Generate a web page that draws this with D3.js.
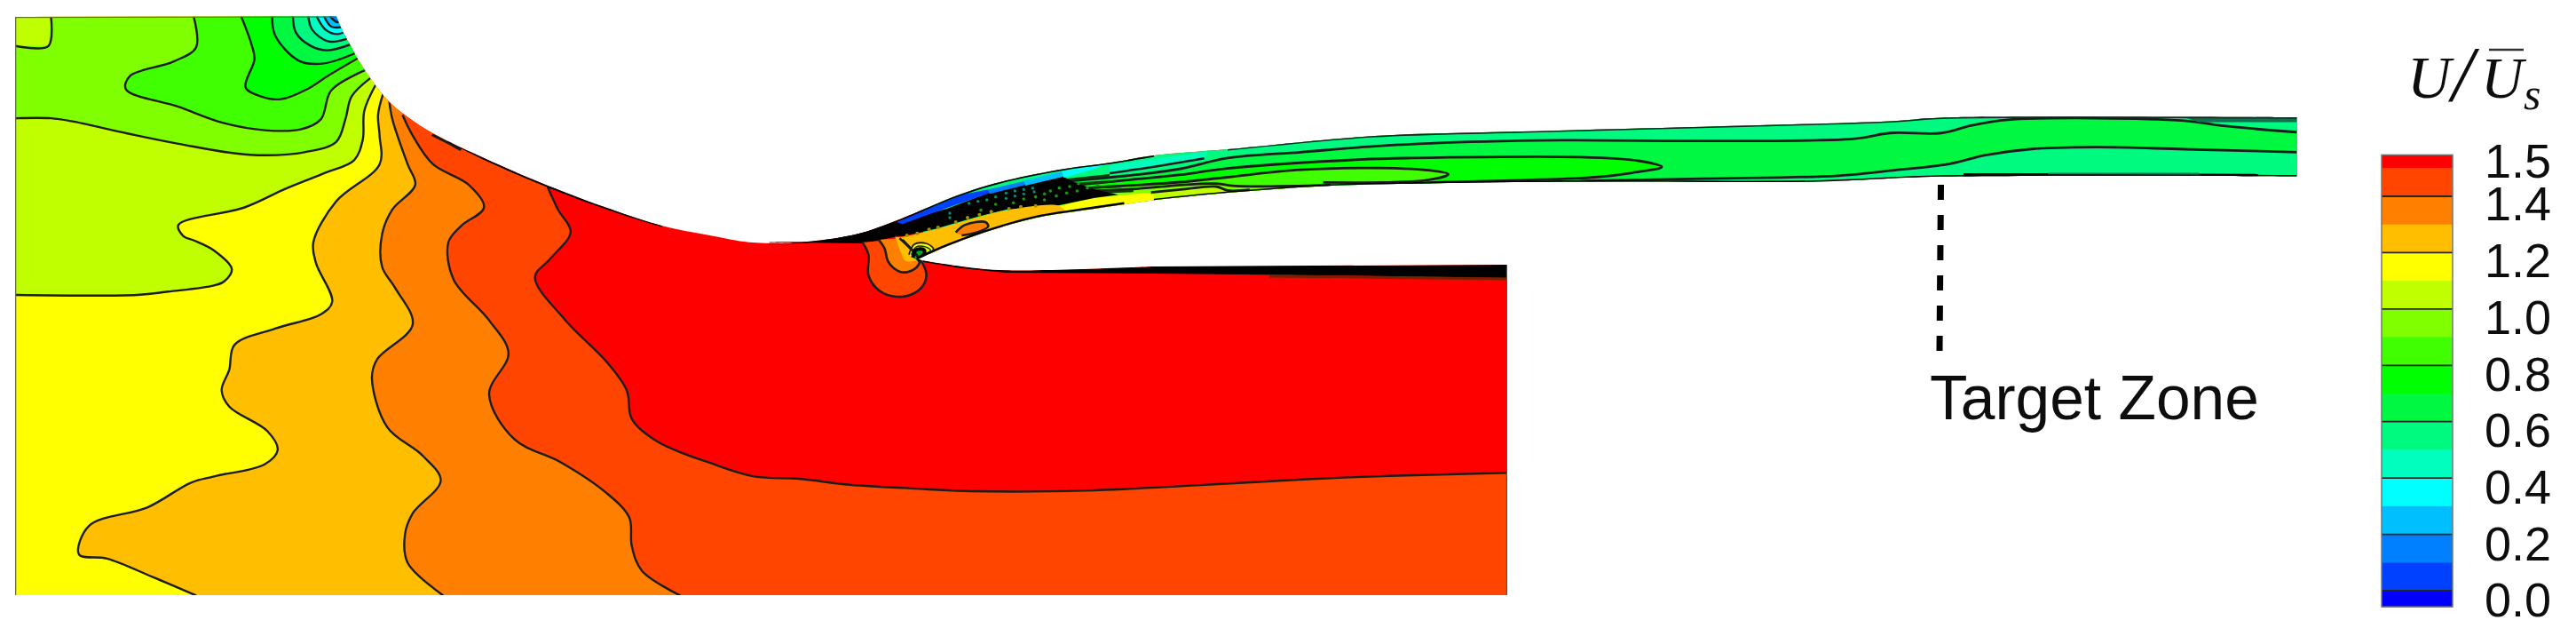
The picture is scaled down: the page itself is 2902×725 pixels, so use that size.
<!DOCTYPE html>
<html><head><meta charset="utf-8">
<script src="https://cdn.jsdelivr.net/npm/d3@7"></script>
<style>html,body{margin:0;background:#fff}svg{display:block}</style></head>
<body><svg id="chart" width="2902" height="725"></svg>
<script>
// ---------- data (each array is read in the units of one reference view) ----------
const legendLevels=[1.547,1.5,1.4,1.3,1.2,1.1,1.0,0.9,0.8,0.7,0.6,0.5,0.4,0.3,0.2,0.1,0,-0.057];
const legendColors=["#ff0000","#ff4500","#ff8000","#ffbf00","#ffff00","#bfff00","#80ff00","#40ff00","#00ff00","#00f840","#00fa80","#00ffbf","#00ffff","#00bfff","#0080ff","#0040ff","#0000ff"];
const legendMajor=[1.4,1.2,1.0,0.8,0.6,0.4,0.2,0];
const tickLabels=["1.5","1.4","1.2","1.0","0.8","0.6","0.4","0.2","0.0"];
const tickValues=[1.5,1.4,1.2,1.0,0.8,0.6,0.4,0.2,0];
const surfaceLeft=[[660,40],[672,75],[685,105],[705,150],[735,205],[765,250],[800,285],[850,325],[950,385],[1075,452],[1200,510],[1300,550],[1400,575],[1470,590],[1568,592]];
const surfaceThroat=[[200,428],[340,425],[500,400],[630,355],[850,265],[1000,220],[1200,180],[1350,160],[1500,135]];
const jetTop=[[100,205],[300,160],[500,145],[800,125],[1000,110],[1070,98],[1553,97]];
const jetBottom=[[1553,297],[1070,298],[900,315],[600,315],[400,320],[230,330],[100,353],[0,378]];
const lipBottom=[[1400,300],[1250,322],[1100,346],[950,388],[800,442],[700,487]];
const blockTop=[[720,490],[850,510],[1000,523],[1500,510]];
const blockCorners=[[1698,298],[1698,670],[17,670]];
const frameStart=[[17,19]];
// near-wall rings, top of the inlet
const c7=[[365,55],[390,75],[405,70]];
const c6=[[345,55],[370,90],[412,90]];
const c5=[[320,55],[350,100],[390,115],[420,105]];
const c4=[[292,55],[305,100],[360,140],[425,130]];
const c3=[[240,55],[250,110],[300,155],[355,170],[435,150]];
const c2=[[170,55],[180,120],[260,205],[340,215],[450,180]];
const c1=[[65,55],[100,150],[110,200],[80,295],[130,325],[200,335],[290,300],[360,255],[462,195]];
const cBox=[[30,112],[95,112],[100,40]];
const c40=[[380,40],[385,115],[340,150],[255,185],[247,217],[350,260],[440,300],[520,317],[590,315],[630,290],[650,220],[718,170]];
const c80=[[30,288],[100,288],[140,295],[250,325],[350,350],[490,377],[600,370],[660,345],[678,290],[690,235],[727,190]];
const cBF=[[30,718],[270,718],[330,710],[420,695],[440,685],[455,655],[420,610],[380,585],[360,575],[350,548],[480,505],[560,460],[640,420],[695,390],[712,340],[715,270],[738,205]];
const cFF=[[385,1450],[300,1405],[210,1360],[155,1350],[175,1280],[290,1235],[375,1175],[420,1160],[520,1130],[545,1095],[525,1050],[450,990],[435,950],[450,900],[460,840],[540,800],[630,765],[652,735],[620,640],[615,590],[660,490],[745,400],[745,330],[742,280],[752,228]];
const cAmber=[[870,1450],[800,1370],[795,1300],[810,1250],[865,1170],[830,1110],[760,1040],[730,920],[740,875],[810,790],[775,700],[750,650],[750,570],[770,510],[815,450],[800,400],[770,290],[764,245]];
const cOrange=[[1335,1450],[1260,1390],[1240,1330],[1235,1260],[1190,1200],[1100,1125],[1010,1070],[960,960],[998,860],[960,780],[890,680],[880,590],[905,550],[950,505],[920,450],[850,400],[810,330],[790,280]];
const cRedLow=[[1390,700],[1160,710],[990,722],[780,742],[560,760],[340,762],[250,755],[100,740],[0,720]];
const cRedLeft=[[1480,1160],[1400,1130],[1290,1075],[1240,1020],[1230,950],[1190,880],[1110,780],[1050,675],[1080,630],[1120,565],[1095,510],[1075,456]];
const cRedTip=[[1075,456],[1112,463]];
const squiggle=[[848,328],[875,345],[905,365]];
const thickSurface=[[880,342],[950,385],[1075,452],[1200,510],[1300,549]];
// throat view
const bubble=[[515,428],[535,470],[535,540],[570,590],[630,612],[690,600],[725,565],[730,530],[712,490],[650,420]];
const bubbleInner=[[570,420],[590,450],[600,490],[620,515],[655,530],[695,515],[708,490],[640,415]];
const amberPatch=[[625,410],[650,410],[760,385],[900,345],[1000,320],[1180,305],[1200,328],[1100,350],[950,394],[800,448],[700,490],[660,490],[640,450]];
const orangeIsland=[[830,395],[860,370],[930,360],[940,375],[900,395],[850,405]];
const eyeY=[[672,470],[690,435],[730,432],[755,452],[700,482]];
const eyeG=[[680,470],[695,445],[725,443],[745,455],[700,478]];
const eyeK=[[685,480],[695,455],[720,452],[725,462],[700,490]];
const core=[[400,420],[630,360],[800,315],[940,262],[1060,232],[1190,205],[1230,225],[1300,250],[1380,268],[1300,278],[1180,303],[1000,318],[900,343],[760,383],[650,408],[625,410],[515,432],[340,430]];
const strip1=[[630,360],[850,268],[940,250],[945,262],[800,312],[650,367]];
const strip2=[[940,250],[1060,222],[1065,235],[945,265]];
const strip3=[[1060,220],[1190,190],[1190,208],[1065,237]];
const strip4=[[1190,188],[1345,163],[1300,180],[1195,210]];
const yellowStrip=[[1180,305],[1300,278],[1470,262],[1500,268],[1500,310],[1180,345]];
const specksTeal=[[875,297],[905,290],[935,285],[810,330],[810,345],[965,275],[1000,262],[1030,255],[1060,250],[1090,245],[1000,280],[1030,272],[1060,265],[1095,258]];
const specksGreen=[[915,320],[965,300],[1025,295],[1060,282],[1100,275],[1130,265],[1150,255],[1180,245],[1215,240],[1245,230],[1130,285],[1170,272],[1205,262],[1240,255],[1275,245],[1310,235]];
const specksOlive=[[665,405],[700,398],[740,385],[770,378],[830,360],[870,345],[910,335],[950,325],[1010,315],[1050,308],[1100,305]];
// fine jet view
const strip5=[[360,78],[690,32],[680,55],[500,85],[360,105]];
const f2=[[190,135],[300,125],[450,110],[600,90]];
const f3=[[190,150],[300,140],[450,125],[600,110]];
const f4=[[190,165],[280,155],[450,145],[600,135]];
const f5=[[300,165],[450,158],[600,145],[720,140]];
const f6=[[500,170],[600,160],[720,150]];
const fanExtra=[[[210,128],[360,112]],[[215,143],[380,132]],[[230,158],[400,150]],[[280,172],[440,165]]];
// long jet view
const lineA=[[100,235],[200,215],[300,195],[430,180],[520,175],[950,170],[1000,150],[1070,150],[1110,125],[1160,105],[1400,108],[1450,125],[1553,147]];
const lineD=[[1553,215],[1400,205],[1280,198],[1190,205],[1130,225],[1080,255],[1000,278],[930,295],[750,305],[600,312],[490,322]];
const tongue0=[[100,270],[280,240],[350,235],[580,232],[660,245],[690,265],[650,285],[600,300],[500,310],[400,316],[340,322]];
const tongue4=[[100,300],[200,275],[350,272],[400,290],[370,310],[230,318]];
const f5End=[[110,330],[240,327]];
const f6End=[[100,345],[130,343]];
const tealTop=[[1400,97],[1553,97],[1553,113],[1420,113]];
const tealBottom=[[1215,291],[1420,291]];
const darkBottom=[[[1100,292],[1215,292]],[[1420,293],[1500,294]]];
// target marker
const markerX=[2186.5,2185];
const markerY=[208,395];
// ---------- scales ----------
const L={x:d3.scaleLinear([0,1568],[0,900]),y:d3.scaleLinear([0,1568],[0,725])};
const Z={x:d3.scaleLinear([0,720],[250,490]),y:d3.scaleLinear([0,450],[0,150])};
const T={x:d3.scaleLinear([0,1500],[800,1300]),y:d3.scaleLinear([0,780],[130,390])};
const J={x:d3.scaleLinear([0,1568],[1300,2600]),y:d3.scaleLinear([0,392],[100,230])};
const F={x:d3.scaleLinear([0,720],[1130,1370]),y:d3.scaleLinear([0,270],[160,250])};
const B={x:d3.scaleLinear([0,1568],[900,1800]),y:d3.scaleLinear([0,1280],[300,725])};
const P=(v,a)=>a.map(p=>[v.x(p[0]),v.y(p[1])]);
const straight=d3.line(), curved=d3.line().curve(d3.curveCatmullRom.alpha(0.5));
const shut=a=>straight(a)+"Z";
const region=(contour,closure)=>curved(contour)+(closure.length?"L"+closure.map(p=>p.join(",")).join("L"):"")+"Z";
const svg=d3.select("#chart");
const defs=svg.append("defs");
defs.append("filter").attr("id","soft").attr("x","-2%").attr("y","-2%").attr("width","104%").attr("height","104%")
  .append("feGaussianBlur").attr("stdDeviation",0.75);
// ---------- domain ----------
const upperRun=[...P(L,surfaceLeft),...P(T,surfaceThroat),...P(J,jetTop)];
const lowerRun=[...P(J,jetBottom),...P(T,lipBottom)];
const blockRun=P(T,blockTop);
const outlinePath="M"+frameStart[0].join(",")+curved(upperRun).replace("M","L")+curved(lowerRun).replace("M","L")+curved(blockRun).replace("M","L")+"L"+blockCorners.map(p=>p.join(",")).join("L")+"Z";
defs.append("clipPath").attr("id","dom").append("path").attr("d",outlinePath);
const root=svg.append("g").attr("filter","url(#soft)");
const g=root.append("g").attr("clip-path","url(#dom)");
const paint=(pts,c)=>g.append("path").attr("d",shut(pts)).attr("fill",c);
const paintC=(contour,closure,c)=>g.append("path").attr("d",region(contour,closure)).attr("fill",c);
const ink=(pts,w=2.4,c="#1c1c1c")=>g.append("path").attr("d",curved(pts)).attr("fill","none").attr("stroke",c).attr("stroke-width",w).attr("stroke-linejoin","round");
const up=(pts)=>[pts[pts.length-1][0],-50];
const col=legendColors;
g.append("rect").attr("width",2902).attr("height",725).attr("fill",col[0]);
// block + nozzle regions, painted from high to low
const redLine=[...P(B,cRedLow),...P(L,cRedLeft)];
paintC(redLine,[up(redLine),[-50,-50],[-50,800],[1800,800],[1800,redLine[0][1]]],col[1]);
const oc=P(L,cOrange); paintC(oc,[up(oc),[-50,-50],[-50,800],[oc[0][0],800]],col[2]);
const am=P(L,cAmber); paintC(am,[up(am),[-50,-50],[-50,800],[am[0][0],800]],col[3]);
const ff=P(L,cFF); paintC(ff,[up(ff),[-50,-50],[-50,800],[ff[0][0],800]],col[4]);
const bf=P(L,cBF); paintC(bf,[up(bf),[-50,-50],[-50,bf[0][1]]],col[5]);
const c8=P(L,c80); paintC(c8,[up(c8),[-50,-50],[-50,c8[0][1]]],col[6]);
const topRegion=(p,c)=>{paintC(p,[up(p),[p[0][0],-50]],c);return p;};
const tops=[[P(L,c40),col[7]],[P(Z,c1),col[8]],[P(Z,c2),col[9]],[P(Z,c3),col[10]],[P(Z,c4),col[11]],[P(Z,c5),col[12]],[P(Z,c6),col[13]],[P(Z,c7),col[14]]].map(d=>topRegion(d[0],d[1]));
const bx=P(L,cBox); paint([[-50,bx[0][1]],...bx,[bx[2][0],-50],[-50,-50]],col[5]);
// jet: painted from the top of the stream down
const JX=2700, under=[[1400,240],[1100,285]];
paint([[1040,150],[JX,100],[JX,260],[1300,240],[1100,285],[1040,292]],col[10]);
const aLine=[...P(F,f2),...P(J,lineA)], dLine=P(J,lineD);
paintC(aLine,[[JX,aLine[aLine.length-1][1]],[JX,dLine[0][1]],...dLine,...under],col[9]);
const t0=[...P(F,f3),...P(J,tongue0)]; paintC(t0,under,col[8]);
const t4=[...P(F,f4),...P(J,tongue4)]; paintC(t4,under,col[7]);
const f5p=[...P(F,f5),...P(J,f5End)]; paintC(f5p,under,col[6]);
const f6p=[...P(F,f6),...P(J,f6End)]; paintC(f6p,under,col[5]);
[aLine,t0,t4,f5p,f6p,dLine].forEach(a=>ink(a,2.8));
fanExtra.forEach(a=>ink(P(F,a),2.6,"#0a3a0a"));
paint(P(J,tealTop),"#0a7050");
paint(P(T,yellowStrip),col[4]);
paint(P(T,core),"#000");
g.append("g").selectAll("circle.t").data(specksTeal).join("circle").attr("cx",p=>T.x(p[0])).attr("cy",p=>T.y(p[1])).attr("r",1.7).attr("fill","#0a8a70");
g.append("g").selectAll("circle.g").data(specksGreen).join("circle").attr("cx",p=>T.x(p[0])).attr("cy",p=>T.y(p[1])).attr("r",1.8).attr("fill","#159a10");
paintC(P(T,bubble),[],col[1]); paintC(P(T,bubbleInner),[],col[2]);
paintC(P(T,amberPatch),[],col[3]);
g.append("g").selectAll("circle.o").data(specksOlive).join("circle").attr("cx",p=>T.x(p[0])).attr("cy",p=>T.y(p[1])).attr("r",2).attr("fill","#a09000");
paintC(P(T,orangeIsland),[],col[2]);
paintC(P(T,eyeY),[],col[4]); paintC(P(T,eyeG),[],col[5]); paintC(P(T,eyeK),[],"#0a3");
[P(T,bubble),P(T,bubbleInner),P(T,orangeIsland)].forEach(a=>ink(a,2.6));
ink(P(T,eyeY),1.8); ink(P(T,eyeG),1.4); ink(P(T,eyeK),4,"#000");
paint(P(T,strip1),col[15]); paint(P(T,strip2),col[14]); paint(P(T,strip3),col[13]); paint(P(T,strip4),col[12]); paint(P(F,strip5),col[11]);
ink(P(F,strip5).slice(2),2.6);
// contour lines of the nozzle + block
[...tops,P(L,c80),P(L,cBF),P(L,cFF),P(L,cAmber),P(L,cOrange),redLine,P(L,cRedTip),bx].forEach(a=>ink(a));
ink(P(L,squiggle),3);
ink(P(L,thickSurface),3.6,"#000");
// edges
g.append("path").attr("d",region(blockRun,[[1698,298],[1698,313],[1500,310],[1300,308],[1133,307],[1083,302],[1040,295]])).attr("fill","#000");
ink([[1430,311],[1698,314]],3,"#7a2000");
ink(P(J,tealBottom),4,"#0a7a58"); darkBottom.forEach(a=>ink(P(J,a),3.5,"#000"));
ink(P(J,jetBottom),3,"#000"); ink(P(T,lipBottom),5,"#000");
ink(P(T,surfaceThroat),3,"#000"); ink(P(J,jetTop),3,"#0a2a1a");
ink(blockCorners.slice(0,2),2.4,"#555");
ink([[17,19],[17,670]],2.6,"#666"); ink([[17,19],P(L,surfaceLeft)[0]],2.4,"#666");
// ---------- legend ----------
const lx=d3.scaleLinear([0,1],[2683,2763]);
const ly=d3.scaleLinear([0,1.4],[665,221]);
const tickY=d3.scaleLinear([0,1.4,1.5],[675,229,181]);
const lg=svg.append("g").attr("filter","url(#soft)");
lg.selectAll("rect.b").data(legendColors).join("rect").attr("class","b")
  .attr("x",lx(0)).attr("width",lx(1)-lx(0))
  .attr("y",(d,i)=>ly(legendLevels[i])).attr("height",(d,i)=>ly(legendLevels[i+1])-ly(legendLevels[i])+0.5).attr("fill",d=>d);
lg.selectAll("line.m").data(legendMajor).join("line").attr("class","m")
  .attr("x1",lx(0)).attr("x2",lx(1)).attr("y1",d=>ly(d)).attr("y2",d=>ly(d)).attr("stroke","#262626").attr("stroke-width",1.8);
lg.append("rect").attr("x",lx(0)).attr("width",lx(1)-lx(0)).attr("y",ly(1.547)).attr("height",ly(-0.057)-ly(1.547)).attr("fill","none").attr("stroke","#777").attr("stroke-width",1.5);
const tx=svg.append("g").attr("filter","url(#soft)").attr("fill","#111");
tx.selectAll("text.tick").data(tickValues).join("text").attr("class","tick").attr("x",2799).attr("y",d=>tickY(d)).attr("dy","0.36em")
  .attr("font-family","Liberation Sans").attr("font-size",54).text((v,i)=>tickLabels[i]);
// title
const ttl=tx.append("text").attr("font-family","Liberation Serif").attr("font-style","italic");
[["U",2712,110,68],["/",2762,113,88],["U",2795,110,66],["s",2843,123,50]].forEach(([s,x,y,fs])=>ttl.append("tspan").attr("x",x).attr("y",y).attr("font-size",fs).text(s));
tx.append("line").attr("x1",2804).attr("x2",2843).attr("y1",56).attr("y2",56).attr("stroke","#333").attr("stroke-width",2.4);
// target zone
tx.append("line").attr("x1",markerX[0]).attr("x2",markerX[1]).attr("y1",markerY[0]).attr("y2",markerY[1])
  .attr("stroke","#000").attr("stroke-width",7).attr("stroke-dasharray","17 17");
tx.append("text").attr("x",2174).attr("y",472).attr("font-family","Liberation Sans").attr("font-size",69.5).text("Target Zone");
</script></body></html>
